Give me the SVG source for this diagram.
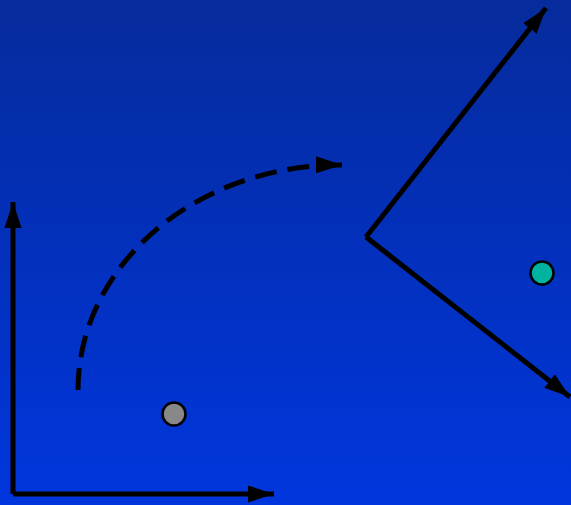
<svg xmlns="http://www.w3.org/2000/svg" width="571" height="505" viewBox="0 0 571 505">
<defs>
<linearGradient id="bg" x1="0" y1="0" x2="0" y2="1">
<stop offset="0" stop-color="#062b9c"/>
<stop offset="1" stop-color="#0036dd"/>
</linearGradient>
<marker id="ah" markerUnits="userSpaceOnUse" markerWidth="28" markerHeight="18" refX="26" refY="9" orient="auto" viewBox="0 0 28 18">
<path d="M0,0.5 L26,9 L0,17.5 Z" fill="#000"/>
</marker>
<style>
.ln{fill:none;stroke:#000;stroke-width:5;marker-end:url(#ah)}
.dash{stroke-dasharray:22 11}
.pt{stroke:#000;stroke-width:2.5}
</style>
</defs>
<rect width="571" height="505" fill="url(#bg)"/>
<g id="connectors">
<path class="ln" d="M13,494 L13,202"/>
<path class="ln" d="M13,494 L274,494"/>
<path class="ln dash" d="M78,390 A262,225 0 0,1 342,165"/>
<path class="ln" d="M366,237 L546,8"/>
<path class="ln" d="M366,237 L570,397"/>
</g>
<g id="gray-point"><circle class="pt" cx="174" cy="414" r="11.5" fill="#888888"/></g>
<g id="teal-point"><circle class="pt" cx="542" cy="273" r="11.5" fill="#00b3a0"/></g>
</svg>
